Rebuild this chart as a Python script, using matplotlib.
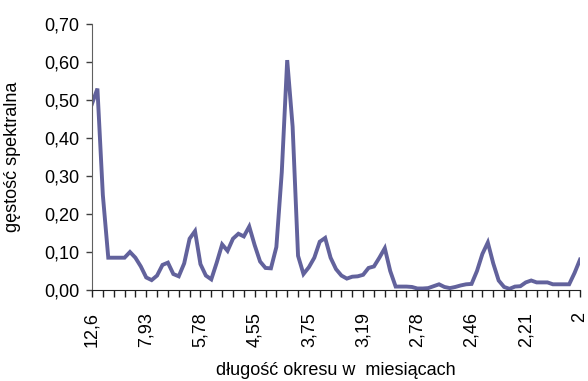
import numpy as np
import matplotlib.pyplot as plt

plt.rcParams['font.family'] = ['Liberation Sans', 'DejaVu Sans']

# okresy (w miesiacach) podpisane na osi X, co 10 harmoniczna
period_labels = ["12,6", "7,93", "5,78", "4,55", "3,75", "3,19", "2,78", "2,46", "2,21", "2"]

# gestosc spektralna dla kolejnych harmonicznych (k = 17 .. 107)
density = [
    0.49, 0.53, 0.25, 0.085, 0.085, 0.085, 0.085, 0.10, 0.085, 0.062,
    0.033, 0.026, 0.038, 0.066, 0.072, 0.042, 0.036, 0.07, 0.135, 0.155,
    0.068, 0.038, 0.028, 0.072, 0.12, 0.103, 0.135, 0.148, 0.141, 0.167,
    0.118, 0.075, 0.058, 0.057, 0.113, 0.31, 0.605, 0.43, 0.09, 0.042,
    0.06, 0.085, 0.127, 0.137, 0.085, 0.055, 0.038, 0.03, 0.035, 0.036,
    0.04, 0.058, 0.062, 0.085, 0.11, 0.05, 0.009, 0.009, 0.009, 0.008,
    0.004, 0.004, 0.005, 0.01, 0.015, 0.008, 0.005, 0.008, 0.012, 0.015,
    0.016, 0.05, 0.095, 0.125, 0.07, 0.025, 0.008, 0.003, 0.009, 0.01,
    0.02, 0.025, 0.02, 0.02, 0.02, 0.015, 0.015, 0.015, 0.015, 0.045,
    0.08,
]

x = np.arange(len(density))

fig = plt.figure(figsize=(5.88, 3.81), dpi=100)
ax = fig.add_axes([92 / 588, 91 / 381, (580 - 92) / 588, (290 - 24) / 381])

ax.plot(x, density, color='#62629c', linewidth=2.8, solid_joinstyle='miter')

ax.set_xlim(0, len(density) - 1)
ax.set_ylim(0, 0.70)

yt = np.arange(0, 0.71, 0.1)
ax.set_yticks(yt)
ax.set_yticklabels([f"{v:.2f}".replace(".", ",") for v in yt], fontsize=13)

ax.set_xticks(np.arange(0, len(density), 2), minor=True)
ax.set_xticks(np.arange(0, len(density), 10))
ax.set_xticklabels(period_labels, rotation=90, fontsize=13, va='top', ha='center')

ax.tick_params(axis='y', direction='out', length=4, width=1, color='#404040', pad=5)
ax.tick_params(axis='x', which='both', direction='out', length=5, width=1, color='#202020', pad=11)

for s in ['top', 'right']:
    ax.spines[s].set_visible(False)
ax.spines['left'].set_color('#606060')
ax.spines['bottom'].set_color('#202020')

ax.set_ylabel("gęstość spektralna", fontsize=13)
ax.yaxis.set_label_coords(-0.145, 0.5)
ax.set_xlabel("długość okresu w  miesiącach", fontsize=13)
ax.xaxis.set_label_coords(0.5, -0.27)

fig.savefig("out.png", dpi=100)
